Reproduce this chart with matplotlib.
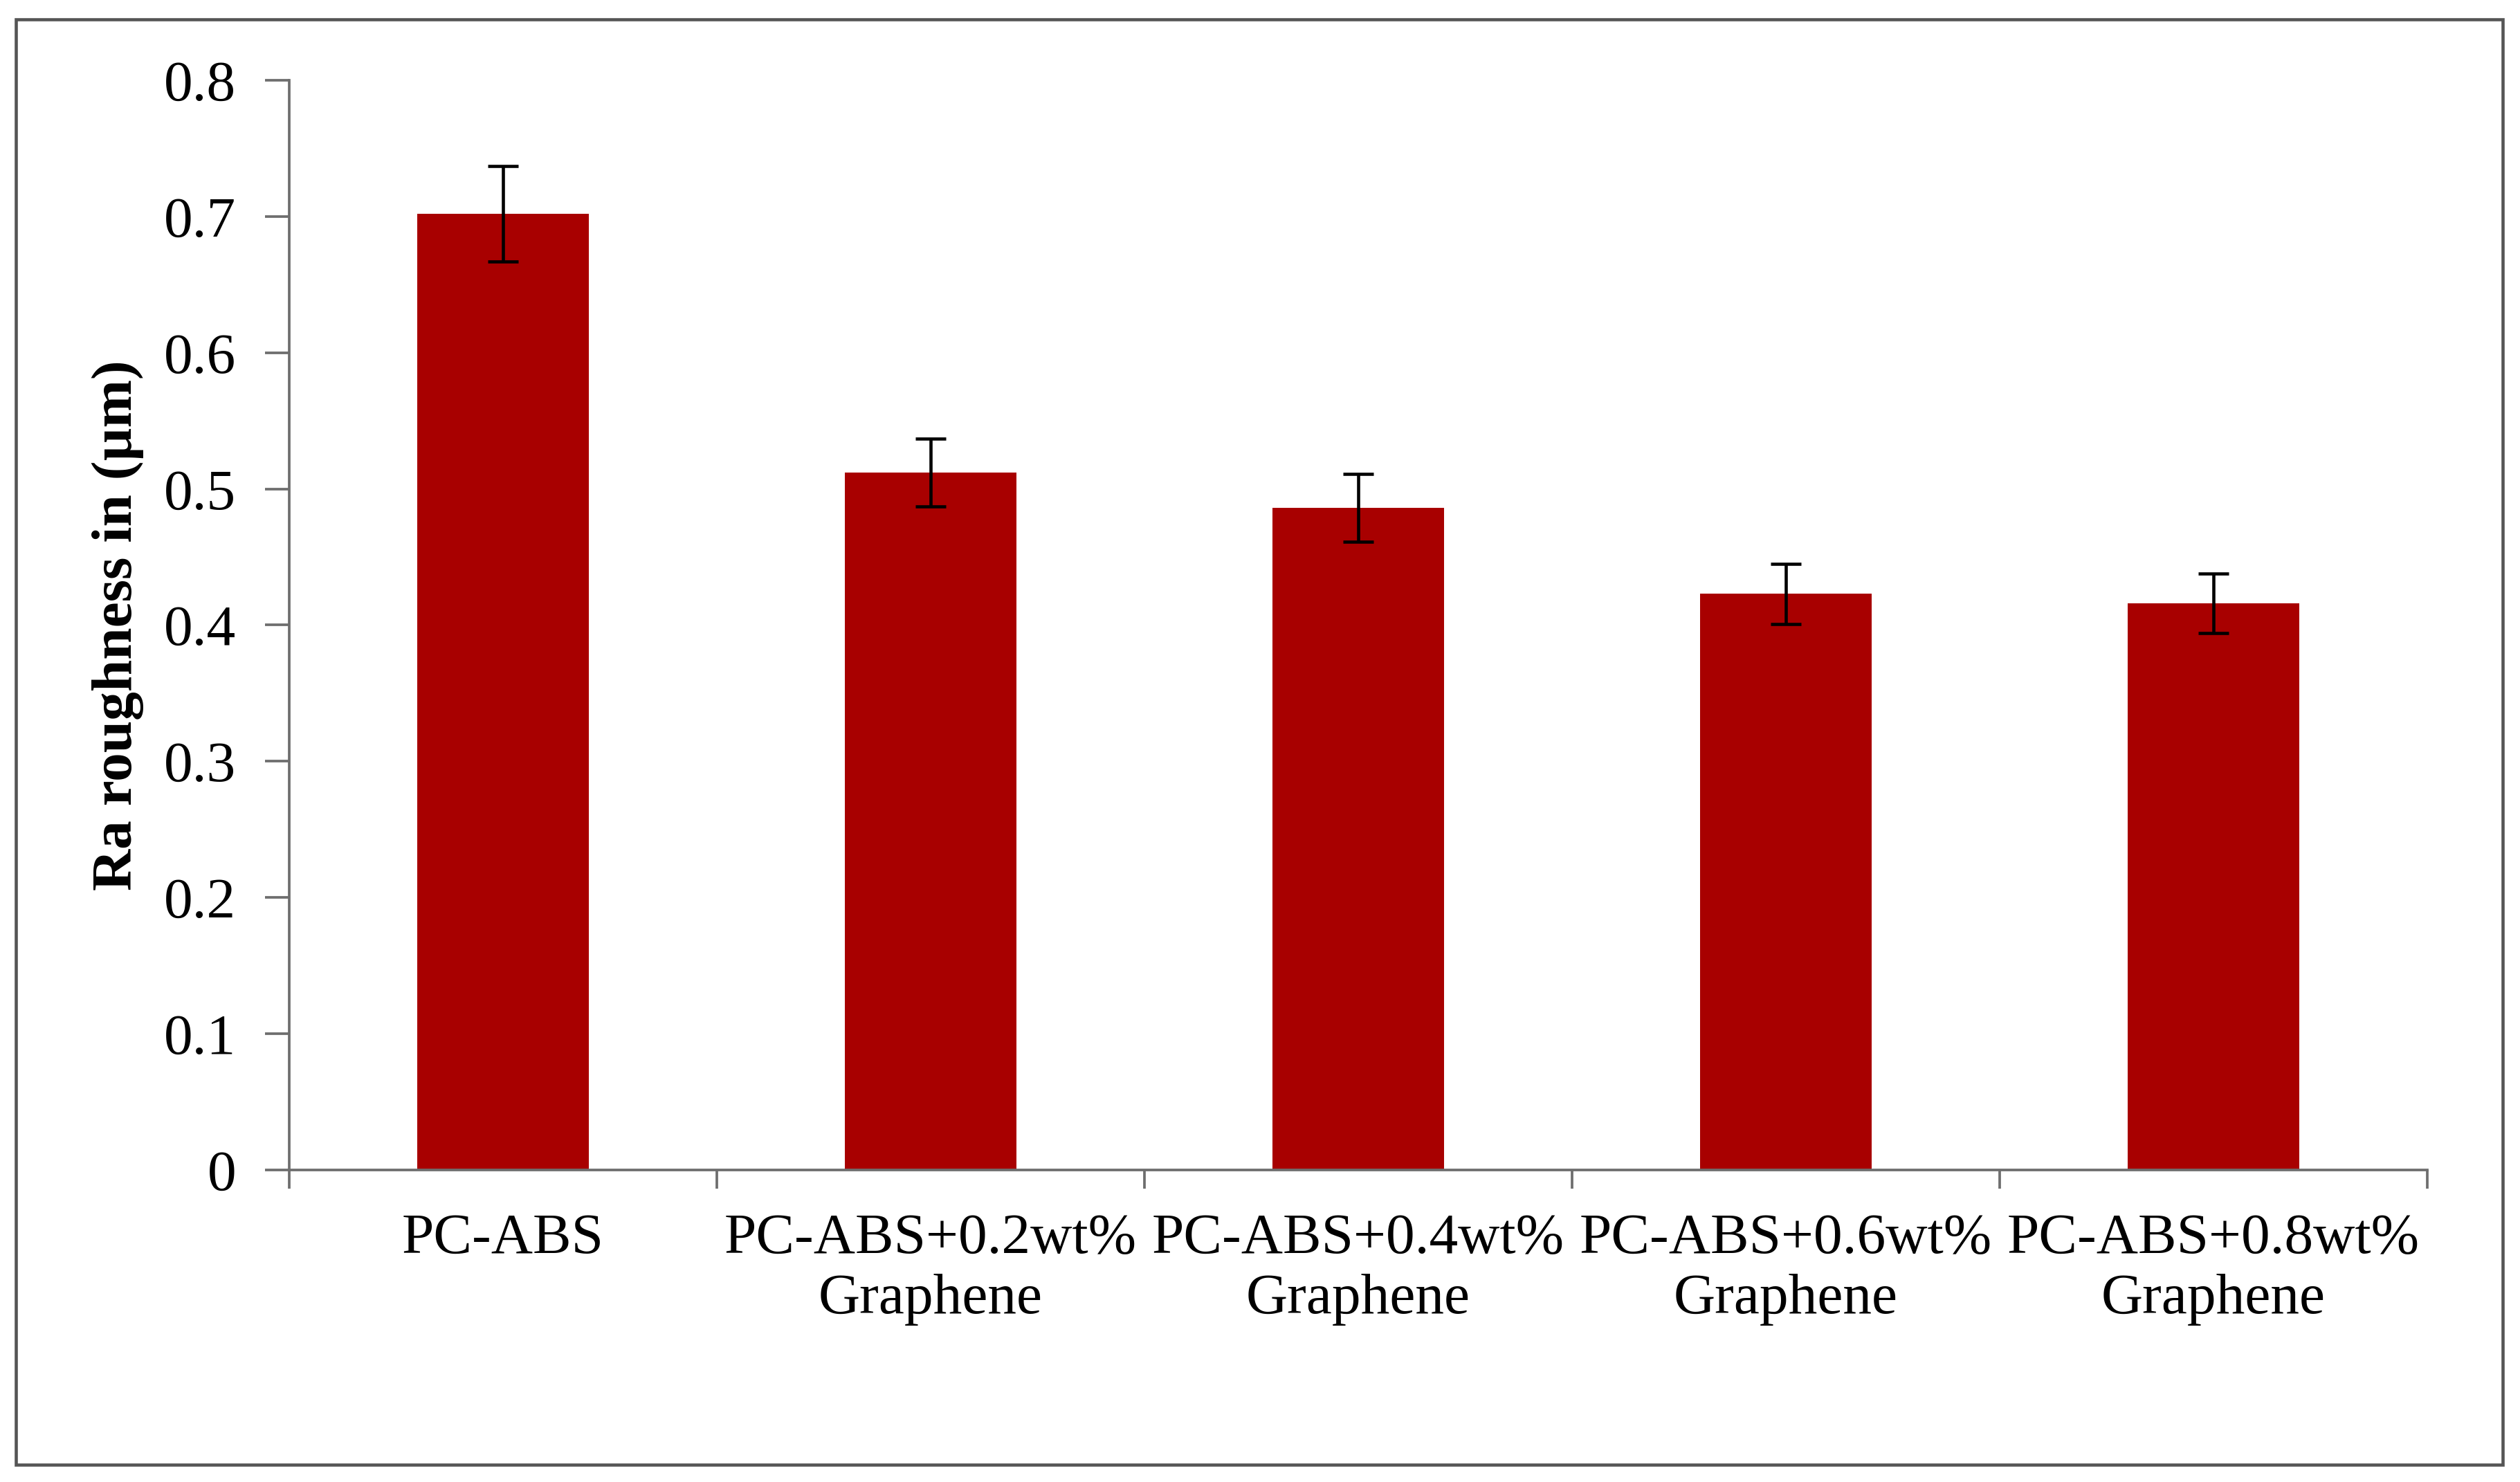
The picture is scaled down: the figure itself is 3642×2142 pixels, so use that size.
import matplotlib
matplotlib.use("Agg")
import matplotlib.pyplot as plt
from matplotlib.patches import Rectangle
import numpy as np

# --- data ---
categories = ["PC-ABS",
              "PC-ABS+0.2wt%\nGraphene",
              "PC-ABS+0.4wt%\nGraphene",
              "PC-ABS+0.6wt%\nGraphene",
              "PC-ABS+0.8wt%\nGraphene"]
ra_values = [0.702, 0.512, 0.486, 0.423, 0.416]
ra_errors = [0.035, 0.025, 0.025, 0.022, 0.022]
y_ticks = [0, 0.1, 0.2, 0.3, 0.4, 0.5, 0.6, 0.7, 0.8]

plt.rcParams["font.family"] = ["Liberation Serif", "DejaVu Serif"]

BAR_COLOR = "#a80000"
AXIS_COLOR = "#6e6e6e"

fig = plt.figure(figsize=(12.14, 7.14), dpi=300)
ax = fig.add_axes([0.1148, 0.2106, 0.8484, 0.7352])

x = np.arange(len(categories))
ax.bar(x, ra_values, width=0.4, color=BAR_COLOR, zorder=2)
ax.errorbar(x, ra_values, yerr=ra_errors, fmt="none", ecolor="black",
            elinewidth=1.1, capsize=5.2, capthick=1.1, zorder=3)

ax.set_xlim(-0.5, len(categories) - 0.5)
ax.set_ylim(0, 0.8)
ax.set_yticks(y_ticks)
ax.set_yticklabels([f"{v:g}" for v in y_ticks], fontsize=20)

# category labels centred, tick marks on the boundaries (Excel style)
ax.set_xticks(x)
ax.set_xticklabels(categories, fontsize=20, linespacing=1.2)
ax.set_xticks(np.arange(-0.5, len(categories), 1.0), minor=True)
ax.tick_params(axis="x", which="major", length=0, pad=15)
ax.tick_params(axis="x", which="minor", length=6.5, width=0.9,
               color=AXIS_COLOR, direction="out")
ax.tick_params(axis="y", length=8.4, width=0.9, color=AXIS_COLOR,
               direction="out", pad=10)

for side in ["top", "right"]:
    ax.spines[side].set_visible(False)
for side in ["left", "bottom"]:
    ax.spines[side].set_color(AXIS_COLOR)
    ax.spines[side].set_linewidth(0.9)

ax.set_ylabel("Ra roughness in (\u00b5m)", fontsize=20, fontweight="bold")
ax.yaxis.set_label_coords(-0.068, 0.5)

# outer frame around the whole chart
fig.patches.append(Rectangle((0.0063, 0.0117), 0.9868, 0.9752,
                             transform=fig.transFigure, fill=False,
                             edgecolor="#555555", linewidth=1.1))

plt.savefig("out.png", dpi=300)
plt.close()
